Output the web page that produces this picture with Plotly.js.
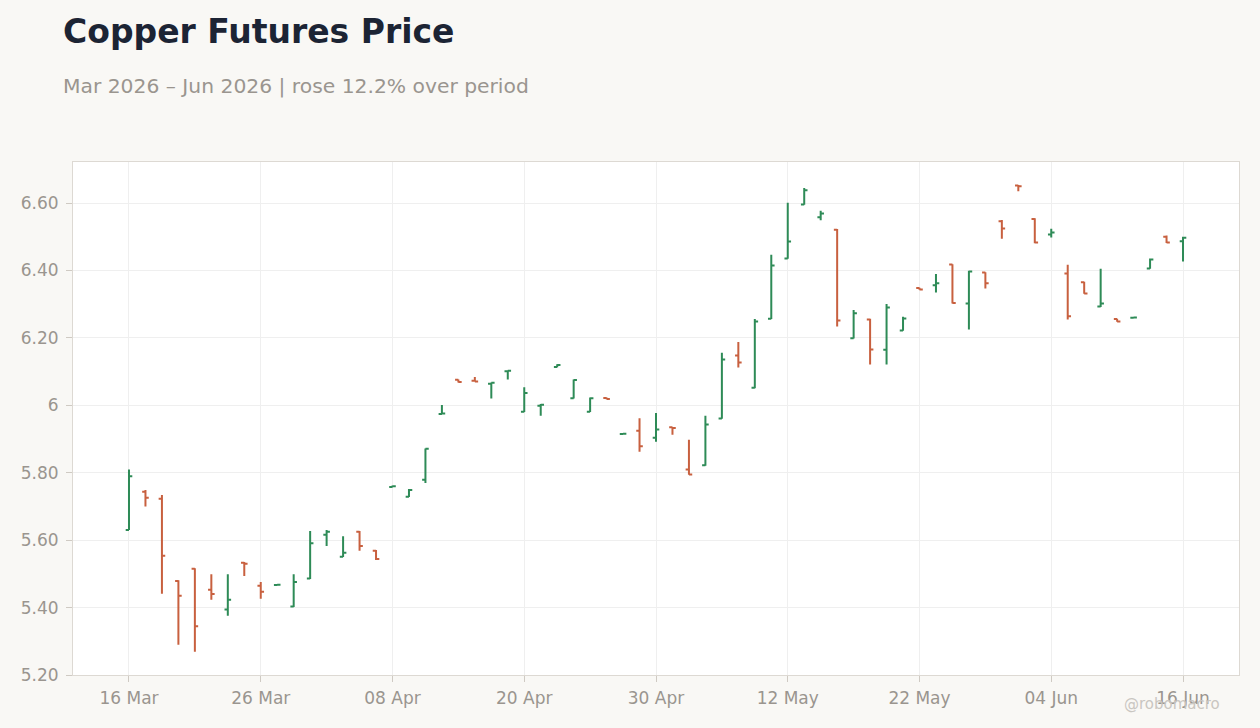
<!DOCTYPE html>
<html>
<head>
<meta charset="utf-8">
<script src="https://cdn.plot.ly/plotly-3.0.1.min.js"></script>
<style>
  html, body { margin: 0; padding: 0; background: #f9f8f5; }
  #chart { width: 1260px; height: 728px; }
</style>
</head>
<body>
<div id="chart"></div>
<script>
const dates = [
  "2026-03-16","2026-03-17","2026-03-18","2026-03-19","2026-03-20",
  "2026-03-23","2026-03-24","2026-03-25","2026-03-26","2026-03-27",
  "2026-03-30","2026-03-31","2026-04-01","2026-04-02",
  "2026-04-06","2026-04-07","2026-04-08","2026-04-09","2026-04-10",
  "2026-04-13","2026-04-14","2026-04-15","2026-04-16","2026-04-17",
  "2026-04-20","2026-04-21","2026-04-22","2026-04-23","2026-04-24",
  "2026-04-27","2026-04-28","2026-04-29","2026-04-30","2026-05-01",
  "2026-05-04","2026-05-05","2026-05-06","2026-05-07","2026-05-08",
  "2026-05-11","2026-05-12","2026-05-13","2026-05-14","2026-05-15",
  "2026-05-18","2026-05-19","2026-05-20","2026-05-21","2026-05-22",
  "2026-05-26","2026-05-27","2026-05-28","2026-05-29",
  "2026-06-01","2026-06-02","2026-06-03","2026-06-04","2026-06-05",
  "2026-06-08","2026-06-09","2026-06-10","2026-06-11","2026-06-12",
  "2026-06-15","2026-06-16"
];
const openPrices = [
  5.630,5.744,5.723,5.479,5.515,
  5.453,5.394,5.533,5.465,5.467,
  5.403,5.486,5.616,5.551,
  5.625,5.569,5.758,5.729,5.779,
  5.974,6.076,6.073,6.064,6.101,
  5.981,5.999,6.114,6.021,5.981,
  6.022,5.915,5.925,5.904,5.935,
  5.810,5.822,5.961,6.148,6.052,
  6.257,6.436,6.596,6.558,6.521,
  6.199,6.255,6.165,6.222,6.348,
  6.356,6.418,6.302,6.394,
  6.546,6.652,6.553,6.507,6.391,
  6.365,6.293,6.256,6.260,6.406,
  6.500,6.487
];
const highPrices = [
  5.810,5.749,5.734,5.481,5.517,
  5.499,5.499,5.535,5.476,5.470,
  5.499,5.627,5.630,5.612,
  5.627,5.571,5.762,5.752,5.872,
  6.001,6.077,6.084,6.068,6.104,
  6.054,6.004,6.122,6.077,6.023,
  6.023,5.917,5.962,5.977,5.936,
  5.898,5.969,6.156,6.188,6.256,
  6.447,6.601,6.645,6.577,6.523,
  6.283,6.257,6.301,6.263,6.349,
  6.390,6.419,6.399,6.395,
  6.550,6.654,6.555,6.524,6.417,
  6.367,6.405,6.257,6.262,6.436,
  6.504,6.500
];
const lowPrices = [
  5.630,5.700,5.441,5.290,5.269,
  5.423,5.376,5.494,5.426,5.466,
  5.402,5.485,5.583,5.550,
  5.569,5.541,5.757,5.728,5.770,
  5.973,6.068,6.070,6.020,6.077,
  5.980,5.969,6.113,6.020,5.980,
  6.018,5.914,5.862,5.892,5.913,
  5.794,5.821,5.960,6.112,6.051,
  6.256,6.435,6.595,6.549,6.234,
  6.198,6.121,6.121,6.221,6.343,
  6.335,6.302,6.225,6.347,
  6.494,6.635,6.481,6.498,6.255,
  6.331,6.292,6.248,6.259,6.405,
  6.482,6.427
];
const closePrices = [
  5.790,5.726,5.554,5.435,5.345,
  5.440,5.423,5.530,5.447,5.468,
  5.476,5.591,5.625,5.563,
  5.583,5.544,5.760,5.749,5.871,
  5.976,6.069,6.071,6.067,6.103,
  6.037,6.002,6.120,6.075,6.021,
  6.019,5.916,5.879,5.928,5.933,
  5.795,5.943,6.136,6.127,6.249,
  6.415,6.486,6.638,6.569,6.252,
  6.273,6.166,6.290,6.258,6.344,
  6.362,6.304,6.397,6.362,
  6.525,6.650,6.483,6.513,6.264,
  6.332,6.302,6.249,6.261,6.433,
  6.483,6.497
];
const xTickDates = ["2026-03-16","2026-03-26","2026-04-08","2026-04-20","2026-04-30","2026-05-12","2026-05-22","2026-06-04","2026-06-16"];
const xTickLabels = ["16 Mar","26 Mar","08 Apr","20 Apr","30 Apr","12 May","22 May","04 Jun","16 Jun"];
const yTickValues = [5.2,5.4,5.6,5.8,6.0,6.2,6.4,6.6];
const yTickLabels = ["5.20","5.40","5.60","5.80","6","6.20","6.40","6.60"];

const trace = {
  type: 'ohlc',
  x: dates,
  open: openPrices,
  high: highPrices,
  low: lowPrices,
  close: closePrices,
  tickwidth: 0.2,
  increasing: { line: { color: '#2e8b57', width: 2 } },
  decreasing: { line: { color: '#c8603f', width: 2 } },
  showlegend: false
};

const layout = {
  width: 1260,
  height: 728,
  paper_bgcolor: '#f9f8f5',
  plot_bgcolor: '#ffffff',
  margin: { l: 73, r: 21, t: 162, b: 53 },
  font: { family: 'DejaVu Sans, sans-serif', color: '#9a958f' },
  title: {
    text: '<b>Copper Futures Price</b>',
    font: { family: 'DejaVu Sans, sans-serif', size: 33, color: '#1c2434' },
    xref: 'container', yref: 'container',
    x: 63 / 1260, xanchor: 'left',
    y: 1 - 31 / 728, yanchor: 'middle'
  },
  xaxis: {
    type: 'category',
    range: [-3.4, 67.4],
    tickmode: 'array',
    tickvals: xTickDates,
    ticktext: xTickLabels,
    tickfont: { size: 17, color: '#9a958f' },
    ticks: 'outside', ticklen: 6, tickcolor: '#cfcac3',
    ticklabelstandoff: 2,
    showgrid: true, gridcolor: '#efefef',
    showline: true, linecolor: '#ddd9d3', mirror: true,
    rangeslider: { visible: false },
    fixedrange: true
  },
  yaxis: {
    range: [5.2, 6.722],
    tickmode: 'array',
    tickvals: yTickValues,
    ticktext: yTickLabels,
    tickfont: { size: 17, color: '#9a958f' },
    ticks: 'outside', ticklen: 6, tickcolor: '#cfcac3',
    ticklabelstandoff: 4,
    showgrid: true, gridcolor: '#efefef',
    showline: true, linecolor: '#ddd9d3', mirror: true,
    zeroline: false,
    fixedrange: true
  },
  annotations: [
    {
      text: 'Mar 2026 – Jun 2026 | rose 12.2% over period',
      xref: 'paper', yref: 'paper',
      x: -12 / 1166, xanchor: 'left',
      y: (675 - 86) / 513, yanchor: 'middle',
      showarrow: false,
      font: { family: 'DejaVu Sans, sans-serif', size: 20.3, color: '#9a958f' }
    },
    {
      text: '@robomacro',
      xref: 'paper', yref: 'paper',
      x: (1222 - 73) / 1166, xanchor: 'right',
      y: -(704 - 675) / 513, yanchor: 'middle',
      showarrow: false,
      font: { family: 'DejaVu Sans, sans-serif', size: 15, color: '#c9c6c1' }
    }
  ]
};

Plotly.newPlot('chart', [trace], layout, { displayModeBar: false, staticPlot: true });
</script>
</body>
</html>
